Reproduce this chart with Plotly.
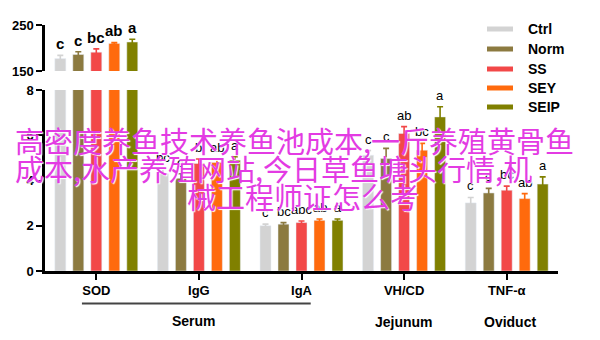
import plotly.graph_objects as go

categories = ["SOD", "IgG", "IgA", "VH/CD", "TNF-α"]
series = ["Ctrl", "Norm", "SS", "SEY", "SEIP"]
colors = ["#d3d3d3", "#8c7a40", "#f24848", "#ff6a0d", "#808000"]

ctrl_vals = [177, 4.3, 2.0, 5.12, 3.01]
norm_vals = [186, 4.1, 2.07, 4.97, 3.45]
ss_vals = [191, 4.75, 2.14, 6.08, 3.57]
sey_vals = [210, 4.8, 2.24, 5.34, 3.2]
seip_vals = [213, 4.9, 2.24, 6.81, 3.84]

ctrl_err = [7, 0.2, 0.07, 0.2, 0.24]
norm_err = [6, 0.2, 0.07, 0.45, 0.2]
ss_err = [7, 0.2, 0.07, 0.3, 0.18]
sey_err = [2, 0.15, 0.06, 0.3, 0.22]
seip_err = [6, 0.15, 0.06, 0.45, 0.32]

ctrl_lbl = ["c", "bc", "c", "c", "c"]
norm_lbl = ["c", "c", "bc", "c", "c"]
ss_lbl = ["bc", "b", "abc", "ab", "bc"]
sey_lbl = ["ab", "ab", "ab", "bc", "ab"]
seip_lbl = ["a", "a", "a", "a", "a"]

vals = [ctrl_vals, norm_vals, ss_vals, sey_vals, seip_vals]
errs = [ctrl_err, norm_err, ss_err, sey_err, seip_err]
lbls = [ctrl_lbl, norm_lbl, ss_lbl, sey_lbl, seip_lbl]

top_range = [150, 250]
bot_range = [0, 8]

overlay_lines = ["高密度养鱼技术养鱼池成本,一斤养殖黄骨鱼",
                 "成本,水产养殖网站,今日草鱼塘头行情,机",
                 "械工程师证怎么考"]

FONT = "Liberation Sans, Arial, sans-serif"
W, H = 600, 340
ML, MR, MT, MB = 45, 42, 25, 69
PH = H - MT - MB
PW = W - ML - MR

def py(pix):
    return (H - MB - pix) / PH

def px(pix):
    return (pix - ML) / PW

fig = go.Figure()

for i, s in enumerate(series):
    fig.add_trace(go.Bar(
        x=categories, y=vals[i], name=s, marker_color=colors[i],
        error_y=dict(type="data", array=errs[i], color=colors[i], thickness=1.6, width=3),
        xaxis="x", yaxis="y", showlegend=False, cliponaxis=True,
    ))
for i, s in enumerate(series):
    fig.add_trace(go.Bar(
        x=categories[:1], y=vals[i][:1], name=s, marker_color=colors[i],
        error_y=dict(type="data", array=errs[i][:1], color=colors[i], thickness=1.6, width=3),
        xaxis="x2", yaxis="y2", showlegend=False,
    ))

annotations = []
offsets = [-36, -18, 0, 18, 36]
for i in range(len(series)):
    for j, c in enumerate(categories):
        v = vals[i][j] + errs[i][j]
        if j == 0:
            annotations.append(dict(x=c, y=v, xref="x2", yref="y2", text="<b>%s</b>" % lbls[i][j],
                                    showarrow=False, xshift=offsets[i], yanchor="bottom", yshift=1,
                                    font=dict(family=FONT, size=15, color="black")))
        elif v <= bot_range[1]:
            annotations.append(dict(x=c, y=v, xref="x", yref="y", text=lbls[i][j],
                                    showarrow=False, xshift=offsets[i], yanchor="bottom", yshift=2,
                                    font=dict(family=FONT, size=13, color="black")))

# group labels
for name, xv, ypix in [("Serum", 0.95, 321), ("Jejunum", 3, 322), ("Oviduct", 4.03, 322)]:
    annotations.append(dict(x=xv, y=py(ypix), xref="x", yref="paper", text="<b>%s</b>" % name,
                            showarrow=False, yanchor="middle", xanchor="center",
                            font=dict(family=FONT, size=14, color="black")))

# legend (manual)
shapes = []
leg_y = [29, 49, 69, 88, 107]
for i, s in enumerate(series):
    shapes.append(dict(type="line", xref="paper", yref="paper", x0=px(487), x1=px(513),
                       y0=py(leg_y[i]), y1=py(leg_y[i]),
                       line=dict(color=colors[i], width=5)))
    annotations.append(dict(x=px(526), y=py(leg_y[i]), xref="paper", yref="paper",
                            text="<b>%s</b>" % s, showarrow=False, xanchor="left", yanchor="middle",
                            font=dict(family=FONT, size=14, color="black")))

# serum underline
shapes.append(dict(type="line", xref="x", yref="paper", x0=-0.14, x1=2.09, y0=py(303.5), y1=py(303.5),
                   line=dict(color="#444", width=2)))

# overlay text lines
for line, xl, yc in zip(overlay_lines, [13, 13, 185], [140, 168, 196]):
    annotations.append(dict(x=px(xl), y=py(yc), xref="paper", yref="paper",
                            text=line, showarrow=False, xanchor="left", yanchor="middle",
                            font=dict(family="Noto Sans CJK SC", size=29, color="#e33be3",
                                      shadow="1px 1px 1px white")))

axis_common = dict(showline=True, linecolor="black", linewidth=2.5, ticks="outside", ticklen=6,
                   tickwidth=2, tickcolor="black", showgrid=False, zeroline=False,
                   tickfont=dict(family=FONT, size=13, color="black", weight="bold"))

fig.update_layout(
    width=W, height=H, margin=dict(l=ML, r=MR, t=MT, b=MB),
    paper_bgcolor="white", plot_bgcolor="white",
    barmode="group", bargap=0.123, bargroupgap=0.39,
    xaxis=dict(domain=[0, 1], anchor="y", type="category", categoryarray=categories,
               range=[-0.5, 4.5], **axis_common),
    yaxis=dict(domain=[0, py(90)], anchor="x", range=bot_range, dtick=2, **axis_common),
    xaxis2=dict(domain=[0, 1], anchor="y2", matches="x", visible=False, type="category"),
    yaxis2=dict(domain=[py(71), py(25)], anchor="x2", range=top_range, tickvals=top_range, **axis_common),
    annotations=annotations, shapes=shapes, showlegend=False,
)

fig.write_html("out.html")
